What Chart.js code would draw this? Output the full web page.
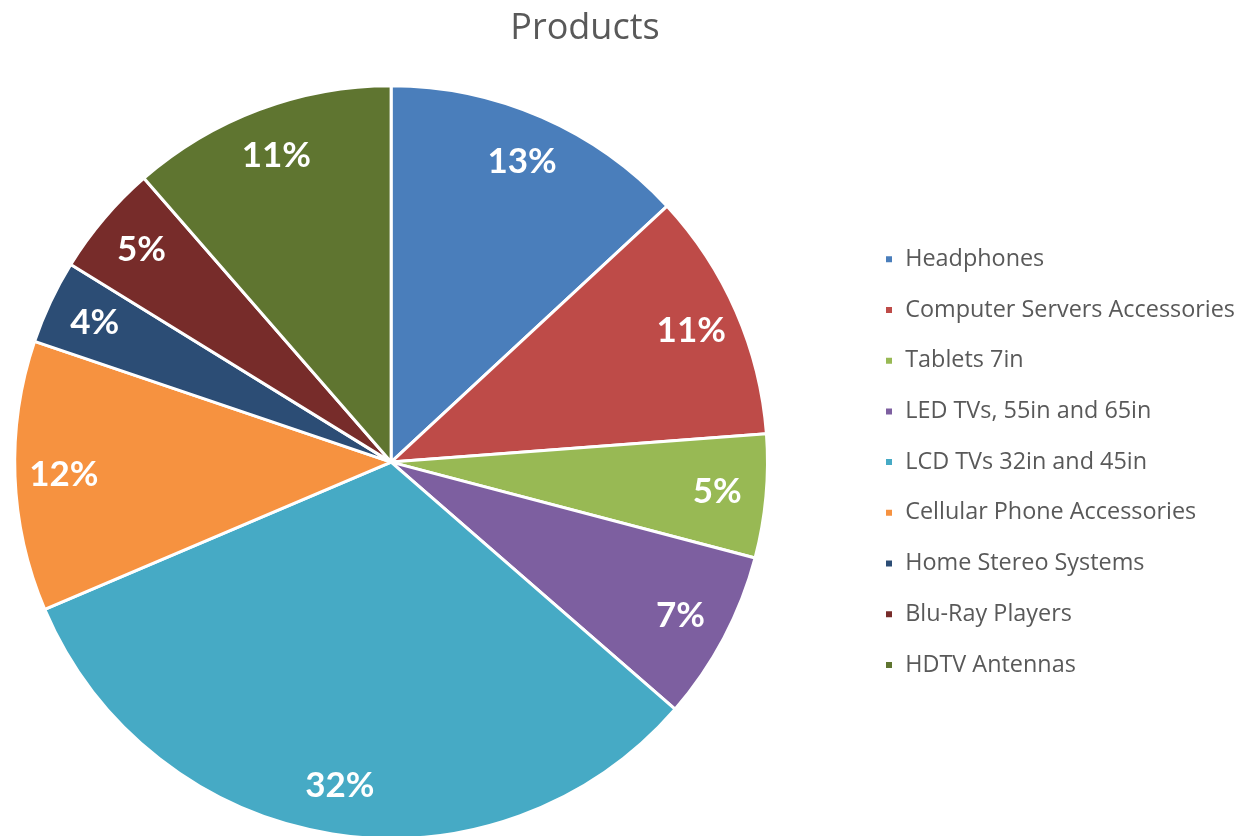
<!DOCTYPE html>
<html>
<head>
<meta charset="utf-8">
<title>Products</title>
<script src="https://cdn.jsdelivr.net/npm/chart.js@4"></script>
<style>
  html, body { margin: 0; padding: 0; background: #fff; overflow: hidden; width: 1245px; height: 836px; }
  /* canvas sticks out to the left so the pie sits near the left edge */
  #wrap { position: absolute; left: -75px; top: 0; width: 1320px; height: 840px; }
</style>
</head>
<body>
<div id="wrap"><canvas id="pieChart"></canvas></div>
<script>
var productNames = [
    "Headphones",
    "Computer Servers Accessories",
    "Tablets 7in",
    "LED TVs, 55in and 65in",
    "LCD TVs 32in and 45in",
    "Cellular Phone Accessories",
    "Home Stereo Systems",
    "Blu-Ray Players",
    "HDTV Antennas"
];

// share of sales per product (percent)
var productShares = [13.1, 10.7, 5.3, 7.3, 32.2, 11.6, 3.6, 4.8, 11.4];

var sliceColors = [
    "#4a7ebb", "#be4b48", "#98b954", "#7d5fa0", "#46aac5",
    "#f69240", "#2c4d75", "#772c2a", "#5f7530"
];

// writes the rounded percentage inside every slice
var sliceLabels = {
    id: "sliceLabels",
    afterDatasetsDraw: function (chart) {
        var ctx = chart.ctx;
        var meta = chart.getDatasetMeta(0);
        var values = chart.data.datasets[0].data;
        var total = values.reduce(function (a, b) { return a + b; }, 0);
        ctx.save();
        ctx.fillStyle = "#ffffff";
        ctx.font = "bold 35px Lato";
        ctx.textAlign = "center";
        ctx.textBaseline = "middle";
        meta.data.forEach(function (arc, i) {
            var mid = (arc.startAngle + arc.endAngle) / 2;
            var r = arc.outerRadius * 0.87;
            var x = arc.x + Math.cos(mid) * r;
            var y = arc.y + Math.sin(mid) * r;
            ctx.fillText(Math.round(values[i] / total * 100) + "%", x, y);
        });
        ctx.restore();
    }
};

var pieChartCanvas = document.getElementById("pieChart").getContext("2d");

var newChart = new Chart(pieChartCanvas, {
    type: "pie",
    data: {
        labels: productNames,
        datasets: [{
            label: "Products",
            data: productShares,
            backgroundColor: sliceColors,
            borderColor: "#ffffff",
            borderWidth: 3
        }]
    },
    options: {
        responsive: true,
        maintainAspectRatio: false,
        animation: false,
        layout: {
            padding: { left: 0, right: 0, top: 0, bottom: 0 }
        },
        plugins: {
            title: {
                display: true,
                text: "Products",
                color: "#595959",
                font: { family: "Open Sans", size: 36, weight: "normal" },
                padding: { top: 7, bottom: 34 }
            },
            legend: {
                position: "right",
                align: "center",
                fullSize: false,
                labels: {
                    boxWidth: 9,
                    boxHeight: 9,
                    padding: 27.3,
                    color: "#595959",
                    font: { family: "Open Sans", size: 23.4 }
                }
            },
            tooltip: { enabled: false }
        }
    },
    plugins: [sliceLabels]
});
</script>
</body>
</html>
